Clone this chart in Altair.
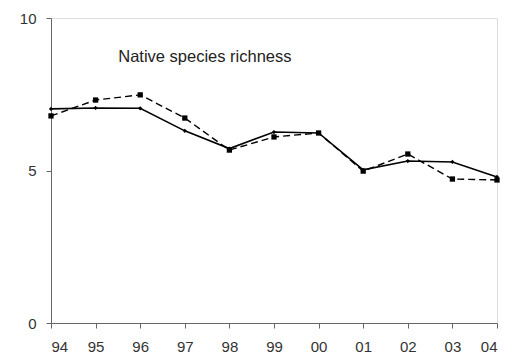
import altair as alt
import pandas as pd

years = ["94", "95", "96", "97", "98", "99", "00", "01", "02", "03", "04"]
solid_vals = [7.02, 7.05, 7.04, 6.30, 5.72, 6.26, 6.23, 5.02, 5.31, 5.28, 4.79]
dashed_vals = [6.79, 7.31, 7.48, 6.72, 5.67, 6.10, 6.23, 4.98, 5.54, 4.72, 4.69]
title_text = "Native species richness"

df_s = pd.DataFrame({"idx": list(range(len(years))), "year": years, "value": solid_vals})
df_d = pd.DataFrame({"idx": list(range(len(years))), "year": years, "value": dashed_vals})

label_arr = "[" + ",".join('"%s"' % y for y in years) + "]"

x_enc = alt.X(
    "idx:Q",
    scale=alt.Scale(domain=[0, len(years) - 1], nice=False, zero=False),
    axis=alt.Axis(
        values=list(range(len(years))),
        labelExpr=label_arr + "[datum.value]",
        title=None,
        grid=False,
        tickSize=5,
        labelPadding=11,
        labelFontSize=15,
        labelColor="#333333",
        domainColor="#666666",
        tickColor="#666666",
        labelFont="Liberation Sans",
    ),
)
y_enc = alt.Y(
    "value:Q",
    scale=alt.Scale(domain=[0, 10], nice=False),
    axis=alt.Axis(
        values=[0, 5, 10],
        title=None,
        grid=False,
        tickSize=5,
        labelPadding=10,
        labelFontSize=15,
        labelColor="#333333",
        domainColor="#666666",
        tickColor="#666666",
        labelFont="Liberation Sans",
    ),
)

dashed = alt.Chart(df_d).mark_line(
    color="black", strokeWidth=1.4, strokeDash=[7, 4],
    point=alt.OverlayMarkDef(shape="square", size=28, color="black", filled=True),
).encode(x=x_enc, y=y_enc)

solid = alt.Chart(df_s).mark_line(
    color="black", strokeWidth=1.6,
    point=alt.OverlayMarkDef(shape="diamond", size=18, color="black", filled=True),
).encode(x=x_enc, y=y_enc)

txt = alt.Chart(pd.DataFrame({"idx": [3.45], "value": [8.72], "t": [title_text]})).mark_text(
    font="Liberation Sans", fontSize=16.5, color="#222222", align="center", baseline="middle"
).encode(x=alt.X("idx:Q"), y=alt.Y("value:Q"), text="t:N")

chart = (
    alt.layer(dashed, solid, txt)
    .properties(width=446, height=305, autosize="none",
                padding={"left": 43, "top": 10, "right": 10, "bottom": 38})
    .configure_view(stroke=None)
    .configure(background="white")
)

chart.save("out.html", embed_options={"renderer": "svg", "actions": False})
